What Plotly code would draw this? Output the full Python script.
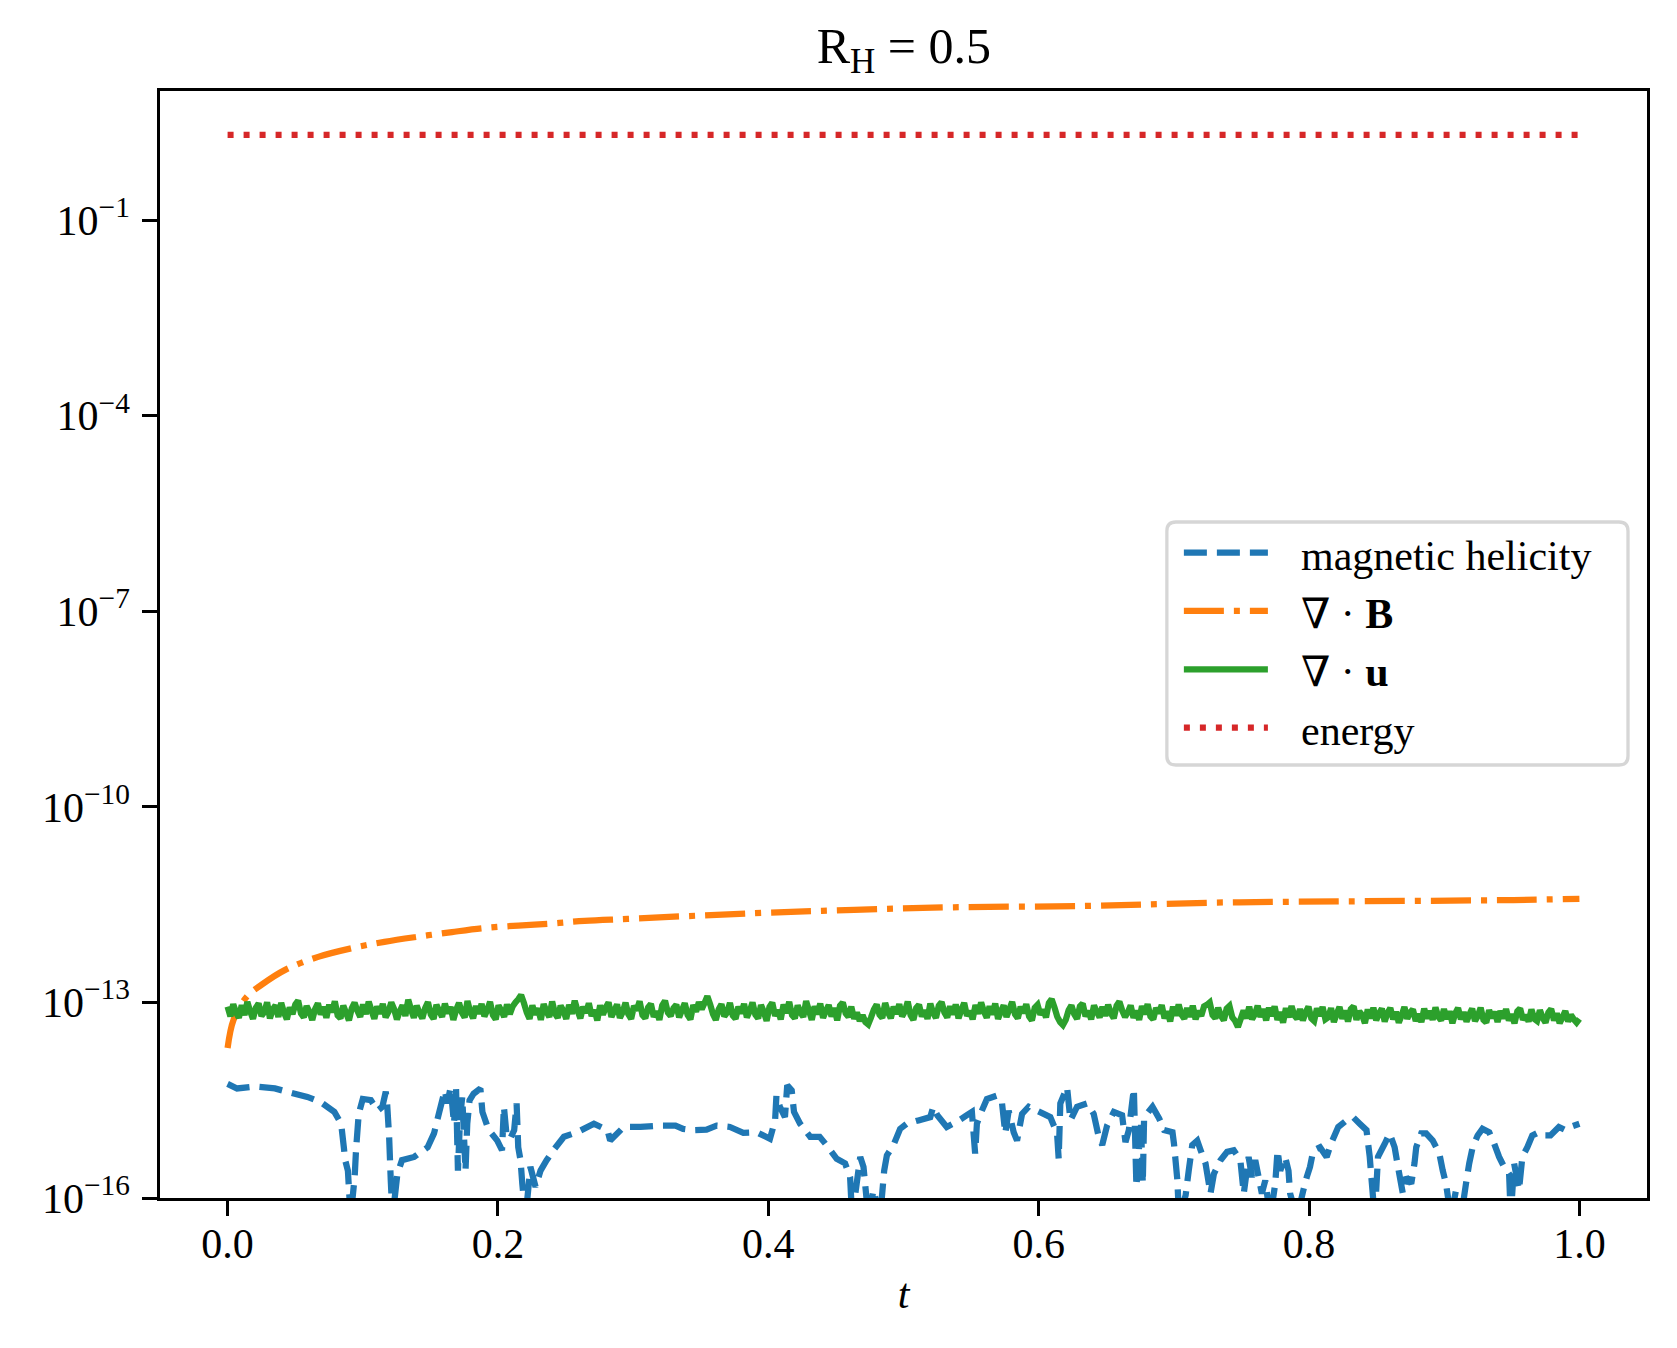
import numpy as np
import plotly.graph_objects as go

# ── Data ──────────────────────────────────────────────────────────────────────

# energy (flat)
t_energy = [0.0, 1.0]
energy = [2.03, 2.03]

# div B : smooth rise
t_div_b = [0.0, 0.0044, 0.0143, 0.025, 0.0426, 0.067, 0.092, 0.116, 0.141, 0.166,
           0.19, 0.215, 0.239, 0.264, 0.296, 0.39, 0.4636, 0.537, 0.636, 0.729,
           0.828, 0.951, 1.0]
div_b = [2.0e-14, 5.4e-14, 1.23e-13, 1.86e-13, 3.16e-13, 5.0e-13, 6.8e-13, 8.5e-13,
         1.02e-12, 1.20e-12, 1.38e-12, 1.51e-12, 1.62e-12, 1.78e-12, 1.91e-12,
         2.34e-12, 2.63e-12, 2.88e-12, 3.02e-12, 3.39e-12, 3.55e-12, 3.72e-12, 3.89e-12]

# div u : noisy, in units of 1e-14, sampled on a uniform time grid
div_u_e14 = [
    8.6, 6.1, 9.4, 7.0, 5.8, 9.1, 6.4, 10.2, 7.3, 5.6,
    8.3, 9.6, 6.2, 7.1, 10.0, 5.7, 7.8, 9.0, 6.0, 9.8,
    7.0, 5.5, 8.4, 6.6, 9.3, 10.6, 6.8, 5.9, 8.8, 7.2,
    5.4, 7.9, 9.7, 6.5, 8.6, 5.8, 9.2, 7.1, 10.4, 6.3,
    5.7, 8.9, 6.9, 5.3, 8.1, 9.9, 7.4, 6.0, 9.3, 6.6,
    10.3, 7.5, 5.6, 8.7, 6.7, 9.5, 5.9, 7.2, 10.0, 7.9,
    5.5, 7.3, 9.0, 6.2, 11.0, 7.8, 5.8, 8.9, 6.9, 5.7,
    8.2, 10.1, 6.5, 5.6, 9.2, 7.4, 6.0, 9.6, 6.8, 8.5,
    5.4, 7.7, 9.8, 7.0, 5.9, 10.5, 7.1, 5.7, 8.8, 6.7,
    9.5, 6.1, 7.6, 10.2, 6.4, 5.5, 9.0, 7.5, 6.0, 9.3,
    6.6, 8.7, 10.0, 11.2, 13.0, 9.8, 7.0, 5.6, 9.0, 6.5,
    8.1, 5.4, 9.4, 7.2, 6.0, 10.3, 6.8, 5.8, 8.9, 7.4,
    5.6, 9.2, 6.7, 10.6, 7.5, 5.7, 8.6, 6.9, 9.7, 6.2,
    7.6, 5.3, 9.0, 6.5, 8.3, 10.0, 6.0, 7.4, 9.3, 5.8,
    7.1, 9.9, 6.6, 5.6, 8.8, 7.6, 10.4, 6.4, 5.7, 8.4,
    9.5, 6.0, 7.3, 5.4, 9.0, 10.6, 7.0, 6.2, 8.2, 9.2,
    5.9, 7.6, 9.7, 6.4, 5.5, 9.1, 7.2, 10.1, 7.9, 9.8,
    12.4, 9.3, 6.6, 5.4, 7.8, 9.4, 6.1, 7.0, 9.8, 6.3,
    5.6, 8.6, 6.8, 9.5, 5.9, 7.3, 10.0, 6.5, 5.7, 9.1,
    7.2, 5.2, 8.5, 9.9, 6.2, 7.6, 5.5, 9.3, 6.9, 10.2,
    6.4, 5.7, 9.0, 7.0, 6.0, 10.5, 7.5, 5.4, 8.7, 6.6,
    9.6, 5.8, 7.4, 9.1, 6.1, 8.2, 5.3, 8.9, 10.0, 6.8,
    6.0, 8.6, 5.6, 7.0, 5.2, 6.4, 5.0, 4.6, 5.9, 7.8,
    9.3, 6.5, 5.8, 9.8, 7.1, 5.7, 8.6, 6.7, 9.4, 6.1,
    7.3, 10.3, 6.4, 5.4, 8.2, 9.2, 6.1, 7.6, 5.6, 9.6,
    6.9, 5.8, 8.9, 10.1, 7.0, 5.9, 8.7, 6.5, 9.3, 5.7,
    7.7, 9.8, 6.2, 7.4, 5.5, 9.1, 6.7, 10.0, 7.3, 5.8,
    8.7, 6.5, 9.6, 5.6, 7.2, 9.0, 6.0, 7.8, 10.2, 6.6,
    5.7, 8.6, 6.9, 9.4, 6.1, 5.3, 8.3, 9.2, 6.5, 7.7,
    5.9, 9.8, 11.2, 8.4, 6.0, 5.0, 4.5, 5.4, 7.6, 9.0,
    6.6, 5.6, 8.7, 9.6, 6.1, 7.4, 5.5, 9.0, 7.2, 5.9,
    8.6, 6.2, 9.2, 6.8, 5.7, 8.9, 10.3, 7.5, 6.0, 7.1,
    9.0, 5.8, 7.5, 5.4, 8.8, 6.6, 9.4, 6.1, 5.5, 8.2,
    6.8, 9.1, 5.7, 7.3, 5.1, 8.6, 6.3, 9.3, 6.5, 5.6,
    8.2, 6.0, 8.9, 5.5, 7.4, 6.2, 8.7, 9.2, 10.0, 6.4,
    5.7, 8.3, 6.2, 5.3, 8.0, 8.8, 5.9, 5.2, 4.2, 5.6,
    7.5, 5.7, 8.6, 5.5, 6.6, 8.9, 6.0, 7.9, 5.3, 8.3,
    6.2, 8.7, 5.4, 7.1, 4.9, 8.2, 5.9, 8.8, 6.3, 5.6,
    7.9, 5.3, 7.0, 8.6, 5.7, 5.2, 8.1, 6.2, 8.5, 5.5,
    5.9, 8.2, 5.0, 6.7, 8.5, 5.6, 7.5, 5.1, 7.9, 8.7,
    5.4, 7.3, 6.4, 4.8, 7.8, 5.7, 8.3, 5.3, 6.8, 8.0,
    5.1, 6.9, 8.2, 5.5, 7.2, 4.9, 6.3, 8.5, 5.6, 7.0,
    7.8, 5.2, 6.6, 5.0, 8.0, 5.7, 7.4, 5.4, 8.4, 6.0,
    5.3, 7.9, 5.6, 7.3, 4.8, 6.8, 8.2, 5.5, 7.1, 5.1,
    6.5, 8.0, 5.2, 6.2, 8.3, 5.4, 4.9, 7.6, 5.8, 7.2,
    5.0, 7.4, 5.7, 7.9, 5.3, 6.6, 4.8, 7.3, 8.1, 5.4,
    6.4, 5.1, 7.8, 5.6, 5.2, 7.6, 5.8, 4.9, 7.0, 7.9,
    5.3, 6.8, 4.8, 5.9, 7.4, 5.1, 6.4, 5.5, 4.9, 5.6,
]
t_div_u = np.linspace(0.0, 1.0, len(div_u_e14))
div_u = np.array(div_u_e14) * 1e-14

# magnetic helicity : dashed, drops below the axis floor (5e-17 = off-axis)
t_helicity = [
    0.0, 0.007, 0.020, 0.035, 0.044, 0.059, 0.069, 0.079, 0.084, 0.086,
    0.087, 0.089, 0.091, 0.094, 0.095, 0.097, 0.100, 0.106, 0.111, 0.1145,
    0.117, 0.118, 0.1195, 0.1207, 0.122, 0.1256, 0.129, 0.138, 0.148, 0.1527,
    0.156, 0.1606, 0.1626, 0.165, 0.1675, 0.169, 0.1704, 0.172, 0.1736, 0.176,
    0.1773, 0.179, 0.182, 0.187, 0.1885, 0.192, 0.1946, 0.1995, 0.203, 0.2044,
    0.2064, 0.209, 0.212, 0.2138, 0.215, 0.2167, 0.218, 0.2204, 0.224, 0.2278,
    0.2315, 0.236, 0.241, 0.2488, 0.2586, 0.271, 0.281, 0.283, 0.2931, 0.3054,
    0.320, 0.3313, 0.337, 0.3444, 0.3543, 0.3617, 0.3716, 0.3815, 0.3914, 0.4012,
    0.405, 0.406, 0.4086, 0.4123, 0.414, 0.4173, 0.419, 0.4235, 0.431, 0.438,
    0.443, 0.4506, 0.4568, 0.4605, 0.462, 0.468, 0.4704, 0.474, 0.4778, 0.4827,
    0.4857, 0.4877, 0.4926, 0.4975, 0.5025, 0.511, 0.5198, 0.522, 0.525, 0.532,
    0.5395, 0.5469, 0.5506, 0.553, 0.5543, 0.558, 0.5617, 0.569, 0.5728, 0.5753,
    0.5778, 0.5815, 0.584, 0.5877, 0.5926, 0.6037, 0.6086, 0.6136, 0.6148, 0.616,
    0.621, 0.6235, 0.6284, 0.6358, 0.6407, 0.6444, 0.647, 0.6506, 0.6556, 0.6617,
    0.6642, 0.6667, 0.6704, 0.6723, 0.6756, 0.677, 0.678, 0.6842, 0.6891, 0.6928,
    0.699, 0.7001, 0.7026, 0.7038, 0.7087, 0.711, 0.7136, 0.7173, 0.7198, 0.7234,
    0.7271, 0.7296, 0.7345, 0.7394, 0.7443, 0.7492, 0.7517, 0.7553, 0.7578, 0.7602,
    0.7627, 0.7651, 0.7676, 0.7713, 0.775, 0.7767, 0.7787, 0.7823, 0.7848, 0.786,
    0.791, 0.7958, 0.7983, 0.8007, 0.8032, 0.8081, 0.813, 0.8167, 0.8216, 0.8277,
    0.8326, 0.8375, 0.8425, 0.8449, 0.8461, 0.8486, 0.851, 0.856, 0.8596, 0.8633,
    0.8658, 0.8694, 0.8719, 0.8756, 0.878, 0.8793, 0.883, 0.8866, 0.8915, 0.8964,
    0.8989, 0.9013, 0.905, 0.9087, 0.9124, 0.9161, 0.9185, 0.921, 0.9247, 0.9283,
    0.9333, 0.937, 0.9406, 0.9443, 0.948, 0.9492, 0.9517, 0.9553, 0.9578, 0.9615,
    0.9651, 0.97, 0.9737, 0.9786, 0.9848, 0.9897, 0.9946, 1.0,
]
helicity = [
    5.62e-15, 4.79e-15, 5.13e-15, 4.79e-15, 4.27e-15, 3.55e-15, 2.95e-15, 2.09e-15, 1.38e-15, 6.0e-16,
    3.8e-16, 2.63e-16, 5e-17, 2.09e-16, 5.4e-16, 1.95e-15, 3.31e-15, 3.16e-15, 2.19e-15, 2.51e-15,
    4.27e-15, 2.82e-15, 8.7e-16, 1.86e-16, 5e-17, 2.34e-16, 3.8e-16, 4.27e-16, 6.0e-16, 9.8e-16,
    1.86e-15, 4.47e-15, 2.82e-15, 5.01e-15, 1.38e-15, 4.79e-15, 2.63e-16, 1.74e-15, 3.55e-15, 2.63e-16,
    1.38e-15, 3.16e-15, 3.98e-15, 4.79e-15, 2.09e-15, 1.29e-15, 1.02e-15, 7.6e-16, 5.4e-16, 2.51e-15,
    9.1e-16, 8.1e-16, 1.10e-15, 2.82e-15, 6.0e-16, 3.8e-16, 1.66e-16, 5e-17, 3.0e-16, 1.48e-16,
    2.63e-16, 3.8e-16, 5.4e-16, 8.7e-16, 1.02e-15, 1.38e-15, 1.10e-15, 7.6e-16, 1.23e-15, 1.23e-15,
    1.29e-15, 1.29e-15, 1.15e-15, 1.10e-15, 1.12e-15, 1.29e-15, 1.23e-15, 1.0e-15, 1.02e-15, 8.1e-16,
    1.55e-15, 3.72e-15, 2.51e-15, 1.74e-15, 5.37e-15, 4.47e-15, 2.09e-15, 1.38e-15, 8.7e-16, 8.7e-16,
    6.5e-16, 4.0e-16, 3.4e-16, 2.09e-16, 5e-17, 4.27e-16, 3.0e-16, 5e-17, 1.32e-16, 5e-17,
    2.63e-16, 4.5e-16, 6.5e-16, 1.15e-15, 1.38e-15, 1.55e-15, 1.74e-15, 2.51e-15, 1.86e-15, 1.23e-15,
    1.48e-15, 1.86e-15, 2.09e-15, 4.8e-16, 1.38e-15, 2.19e-15, 3.31e-15, 3.72e-15, 2.95e-15, 9.8e-16,
    2.19e-15, 1.02e-15, 7.6e-16, 1.95e-15, 2.51e-15, 1.95e-15, 1.74e-15, 9.8e-16, 4.0e-16, 2.82e-15,
    5.01e-15, 1.55e-15, 2.51e-15, 2.82e-15, 1.95e-15, 8.7e-16, 6.5e-16, 1.29e-15, 2.09e-15, 1.86e-15,
    7.2e-16, 1.10e-15, 4.79e-15, 1.48e-16, 1.55e-15, 1.66e-16, 1.74e-15, 2.51e-15, 1.66e-15, 1.10e-15,
    1.02e-15, 6.8e-16, 1.86e-16, 5e-17, 1.10e-16, 2.63e-16, 6.5e-16, 7.6e-16, 5.4e-16, 3.4e-16,
    1.17e-16, 2.34e-16, 3.8e-16, 5.1e-16, 5.4e-16, 3.8e-16, 1.17e-16, 4.27e-16, 2.09e-16, 3.8e-16,
    2.09e-16, 1.17e-16, 1.86e-16, 5e-17, 1.66e-16, 5.4e-16, 2.63e-16, 4.27e-16, 2.63e-16, 1.17e-16,
    5e-17, 1.32e-16, 2.09e-16, 3.0e-16, 5.4e-16, 6.0e-16, 4.27e-16, 7.2e-16, 1.23e-15, 1.55e-15,
    1.74e-15, 1.38e-15, 1.10e-15, 4.27e-16, 2.09e-16, 5e-17, 4.27e-16, 6.8e-16, 9.8e-16, 6.0e-16,
    3.0e-16, 1.17e-16, 2.09e-16, 1.66e-16, 3.4e-16, 6.0e-16, 9.8e-16, 9.8e-16, 7.6e-16, 4.8e-16,
    2.63e-16, 1.66e-16, 5e-17, 1.32e-16, 5e-17, 1.66e-16, 3.4e-16, 6.0e-16, 9.1e-16, 1.15e-15,
    1.02e-15, 6.8e-16, 4.27e-16, 3.0e-16, 2.34e-16, 5e-17, 3.4e-16, 1.32e-16, 4.27e-16, 6.0e-16,
    9.1e-16, 1.02e-15, 9.1e-16, 9.1e-16, 1.23e-15, 1.10e-15, 1.26e-15, 1.38e-15,
]

x_tick_vals = [0.0, 0.2, 0.4, 0.6, 0.8, 1.0]
x_tick_text = ["0.0", "0.2", "0.4", "0.6", "0.8", "1.0"]
y_tick_vals = [1e-16, 1e-13, 1e-10, 1e-7, 1e-4, 1e-1]
y_tick_text = ["10<sup>−16</sup>", "10<sup>−13</sup>", "10<sup>−10</sup>",
               "10<sup>−7</sup>", "10<sup>−4</sup>", "10<sup>−1</sup>"]

legend_labels = ["magnetic helicity", "∇ · <b>B</b>", "∇ · <b>u</b>", "energy"]

# ── Geometry (screen px; the page body adds an 8 px margin) ─────────────────

OFFSET = 8
FIG_W, FIG_H = 1677 - 2 * OFFSET, 1348 - 2 * OFFSET
PLOT_L, PLOT_R, PLOT_T, PLOT_B = 160.4, 1647.0, 91.0, 1198.0


def px_x(px):
    return (px - PLOT_L) / (PLOT_R - PLOT_L)


def px_y(py):
    return (PLOT_B - py) / (PLOT_B - PLOT_T)


LW = 6.25          # 1.5 pt at 300 dpi
FONT = "Liberation Serif, DejaVu Serif, serif"

styles = [
    dict(color="#1f77b4", width=LW, dash="23px,10px"),
    dict(color="#ff7f0e", width=LW, dash="40px,10px,6px,10px"),
    dict(color="#2ca02c", width=LW),
    dict(color="#d62728", width=LW, dash="6px,10px"),
]

# ── Figure ────────────────────────────────────────────────────────────────────

fig = go.Figure()
fig.add_trace(go.Scatter(x=t_helicity, y=helicity, mode="lines",
                         line=dict(styles[0], simplify=False),
                         name="magnetic helicity", showlegend=False))
fig.add_trace(go.Scatter(x=t_div_b, y=div_b, mode="lines", line=dict(styles[1], shape="spline"),
                         name="div B", showlegend=False))
fig.add_trace(go.Scatter(x=t_div_u, y=div_u, mode="lines",
                         line=dict(styles[2], simplify=False),
                         name="div u", showlegend=False))
fig.add_trace(go.Scatter(x=t_energy, y=energy, mode="lines", line=styles[3],
                         name="energy", showlegend=False))

# legend drawn by hand, matplotlib-like (long handles, rounded frame)
box_l, box_t, box_r, box_b, rad = 1167.0, 522.0, 1628.0, 765.0, 9.0
rx = rad / (PLOT_R - PLOT_L)
ry = rad / (PLOT_B - PLOT_T)
x0, x1, y0, y1 = px_x(box_l), px_x(box_r), px_y(box_b), px_y(box_t)
frame_path = (
    f"M {x0 + rx},{y1} L {x1 - rx},{y1} Q {x1},{y1} {x1},{y1 - ry} "
    f"L {x1},{y0 + ry} Q {x1},{y0} {x1 - rx},{y0} "
    f"L {x0 + rx},{y0} Q {x0},{y0} {x0},{y0 + ry} "
    f"L {x0},{y1 - ry} Q {x0},{y1} {x0 + rx},{y1} Z"
)
fig.add_shape(type="path", path=frame_path, xref="paper", yref="paper",
              line=dict(color="#d6d6d6", width=3.3), fillcolor="rgba(255,255,255,0.8)")

row_y0, row_dy = 552.5, 58.4
for i, (label, style) in enumerate(zip(legend_labels, styles)):
    ry_px = row_y0 + i * row_dy
    fig.add_shape(type="line", xref="paper", yref="paper",
                  x0=px_x(1184), x1=px_x(1268), y0=px_y(ry_px), y1=px_y(ry_px),
                  line=style)
    fig.add_annotation(text=label, xref="paper", yref="paper",
                       x=px_x(1299), y=px_y(ry_px + 3), xanchor="left", yanchor="middle",
                       showarrow=False, font=dict(family=FONT, size=42, color="black"))

axis_style = dict(
    showline=True, linecolor="black", linewidth=3.3, mirror=True,
    ticks="outside", ticklen=14.6, tickwidth=3.3, tickcolor="black",
    showgrid=False, zeroline=False,
    tickfont=dict(family=FONT, size=42, color="black"),
)

fig.update_layout(
    width=FIG_W, height=FIG_H,
    margin=dict(l=PLOT_L - OFFSET, r=FIG_W - (PLOT_R - OFFSET),
                t=PLOT_T - OFFSET, b=FIG_H - (PLOT_B - OFFSET)),
    plot_bgcolor="white", paper_bgcolor="white",
    font=dict(family=FONT, size=42, color="black"),
    title=dict(text="R<sub>H</sub> = 0.5", x=px_x(904), xref="paper", xanchor="center",
               yref="container", y=0.972, yanchor="middle",
               font=dict(family=FONT, size=50, color="black")),
    xaxis=dict(range=[-0.05, 1.05], tickvals=x_tick_vals, ticktext=x_tick_text,
               ticklabelstandoff=-8,
               title=dict(text="<i>t</i>", standoff=13, font=dict(family=FONT, size=42)),
               **axis_style),
    yaxis=dict(type="log", range=[-16, 0.98], tickvals=y_tick_vals, ticktext=y_tick_text,
               ticklabelstandoff=4, **axis_style),
    showlegend=False,
)

fig.write_html("out.html")
